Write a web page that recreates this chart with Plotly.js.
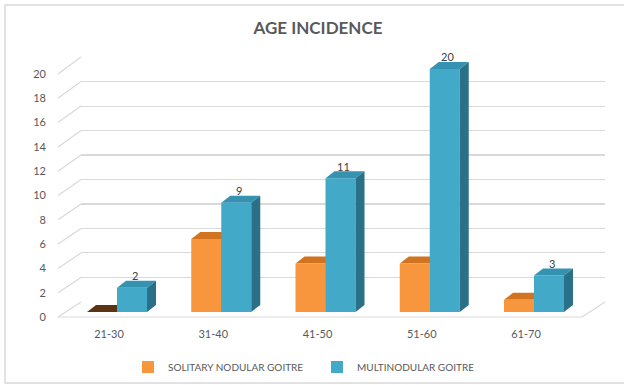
<!DOCTYPE html>
<html>
<head>
<meta charset="utf-8">
<script src="https://cdn.plot.ly/plotly-3.0.1.min.js"></script>
<style>html,body{margin:0;padding:0;background:#fff;}#chart{width:624px;height:385px;}</style>
</head>
<body>
<div id="chart"></div>
<script>
const categories = ['21-30', '31-40', '41-50', '51-60', '61-70'];
const solitary = [0, 6, 4, 4, 1];
const multinodular = [2, 9, 11, 20, 3];
const seriesNames = ['SOLITARY NODULAR GOITRE', 'MULTINODULAR GOITRE'];
const yTicks = [0, 2, 4, 6, 8, 10, 12, 14, 16, 18, 20];

const W = 624, H = 385;
const px = p => p / W;
const py = p => 1 - p / H;
const unit = 12.15;          // px per value unit on the bar axis
const barW = 0.2878;         // bar width in category units
const dx = 0.0863, dy = 0.576; // 3-D depth offsets (category units, value units)

const orange = {front: '#F7963C', top: '#D2741F', zeroTop: '#5A3415', side: '#B85F16'};
const blue = {front: '#42A9C9', top: '#3592B0', side: '#2A7089'};

const shapes = [];
// outer chart border
shapes.push({type: 'rect', xref: 'paper', yref: 'paper', x0: px(5), x1: 1.02, y0: py(383), y1: py(5),
  line: {color: '#d9d9d9', width: 1.5}, fillcolor: 'rgba(0,0,0,0)', layer: 'below'});
// perspective diagonals for gridlines
yTicks.forEach(v => {
  shapes.push({type: 'line', xref: 'paper', yref: 'paper',
    x0: px(58), y0: py(317 - unit * v), x1: px(81), y1: py(302 - 12.25 * v),
    line: {color: '#d9d9d9', width: 1.2}, layer: 'below'});
});
// floor front edge and right side
shapes.push({type: 'line', xref: 'paper', yref: 'paper', x0: px(58), y0: py(317), x1: px(582), y1: py(317),
  line: {color: '#d9d9d9', width: 1.2}, layer: 'below'});
shapes.push({type: 'line', xref: 'paper', yref: 'paper', x0: px(582), y0: py(317), x1: px(605), y1: py(302),
  line: {color: '#d9d9d9', width: 1.2}, layer: 'below'});

function faces(values, offset, col, layer) {
  values.forEach((v, k) => {
    const x0 = k + offset, x1 = x0 + barW;
    shapes.push({type: 'path', xref: 'x2', yref: 'y2', layer: layer, line: {width: 0},
      fillcolor: v === 0 && col.zeroTop ? col.zeroTop : col.top,
      path: `M${x0},${v}L${x1},${v}L${x1 + dx},${v + dy}L${x0 + dx},${v + dy}Z`});
    if (v > 0) {
      shapes.push({type: 'path', xref: 'x2', yref: 'y2', layer: layer, line: {width: 0},
        fillcolor: col.side,
        path: `M${x1},0L${x1},${v}L${x1 + dx},${v + dy}L${x1 + dx},${dy}Z`});
    }
  });
}
faces(solitary, -barW, orange, 'between');
faces(multinodular, 0, blue, 'above');

const annotations = multinodular.map((v, k) => ({
  xref: 'x2', yref: 'y2', x: k + barW / 2 + dx / 3, y: v, yshift: 12,
  text: String(v), showarrow: false, xanchor: 'center', yanchor: 'middle',
  font: {family: 'Lato, sans-serif', size: 11, color: '#404040'}
}));

const data = [
  // empty helper trace so the back-wall grid subplot (x/y) is created
  {type: 'scatter', x: [], y: [], xaxis: 'x', yaxis: 'y', showlegend: false, hoverinfo: 'skip'},
  {type: 'bar', name: seriesNames[0], x: categories, y: solitary, xaxis: 'x2', yaxis: 'y2',
   marker: {color: orange.front, line: {width: 0}}, hoverinfo: 'skip'},
  {type: 'bar', name: seriesNames[1], x: categories, y: multinodular, xaxis: 'x2', yaxis: 'y2',
   marker: {color: blue.front, line: {width: 0}}, hoverinfo: 'skip'}
];

const tickFont = {family: 'Lato, sans-serif', size: 11, color: '#595959'};

const layout = {
  width: W, height: H,
  margin: {l: 0, r: 0, t: 0, b: 0},
  paper_bgcolor: '#ffffff', plot_bgcolor: 'rgba(0,0,0,0)',
  title: {text: 'AGE INCIDENCE', x: px(318), y: py(28), xanchor: 'center', yanchor: 'middle',
    font: {family: 'Lato, sans-serif', size: 17, color: '#595959', weight: 'bold'}},
  barmode: 'group', bargap: 0.4245, bargroupgap: 0,
  showlegend: true,
  legend: {orientation: 'h', x: px(128), y: py(367), xanchor: 'left', yanchor: 'middle',
    font: {family: 'Lato, sans-serif', size: 10, color: '#595959'}, entrywidth: 144, itemwidth: 30},
  xaxis: {domain: [px(81), px(605)], anchor: 'y', range: [0, 1], visible: false, showgrid: false, fixedrange: true},
  yaxis: {domain: [py(302), py(57)], anchor: 'x', range: [-0.02, 20.02], tickvals: yTicks, showgrid: true,
    gridcolor: '#d9d9d9', gridwidth: 1.2, showticklabels: false, zeroline: false, ticks: '', showline: false},
  xaxis2: {domain: [px(64.9), px(586.1)], anchor: 'y2', type: 'category', range: [-0.5, 4.5],
    showgrid: false, zeroline: false, showline: false, ticks: '', tickfont: tickFont,
    ticklabelshift: -8, ticklabelstandoff: 14},
  yaxis2: {domain: [py(312), py(312 - 21 * unit)], anchor: 'x2', range: [0, 21], tickvals: yTicks,
    showgrid: false, zeroline: false, showline: false, ticks: '', tickfont: tickFont,
    ticklabelshift: 5, ticklabelstandoff: 18},
  shapes: shapes,
  annotations: annotations
};

Plotly.newPlot('chart', data, layout, {displayModeBar: false, staticPlot: true});
</script>
</body>
</html>
